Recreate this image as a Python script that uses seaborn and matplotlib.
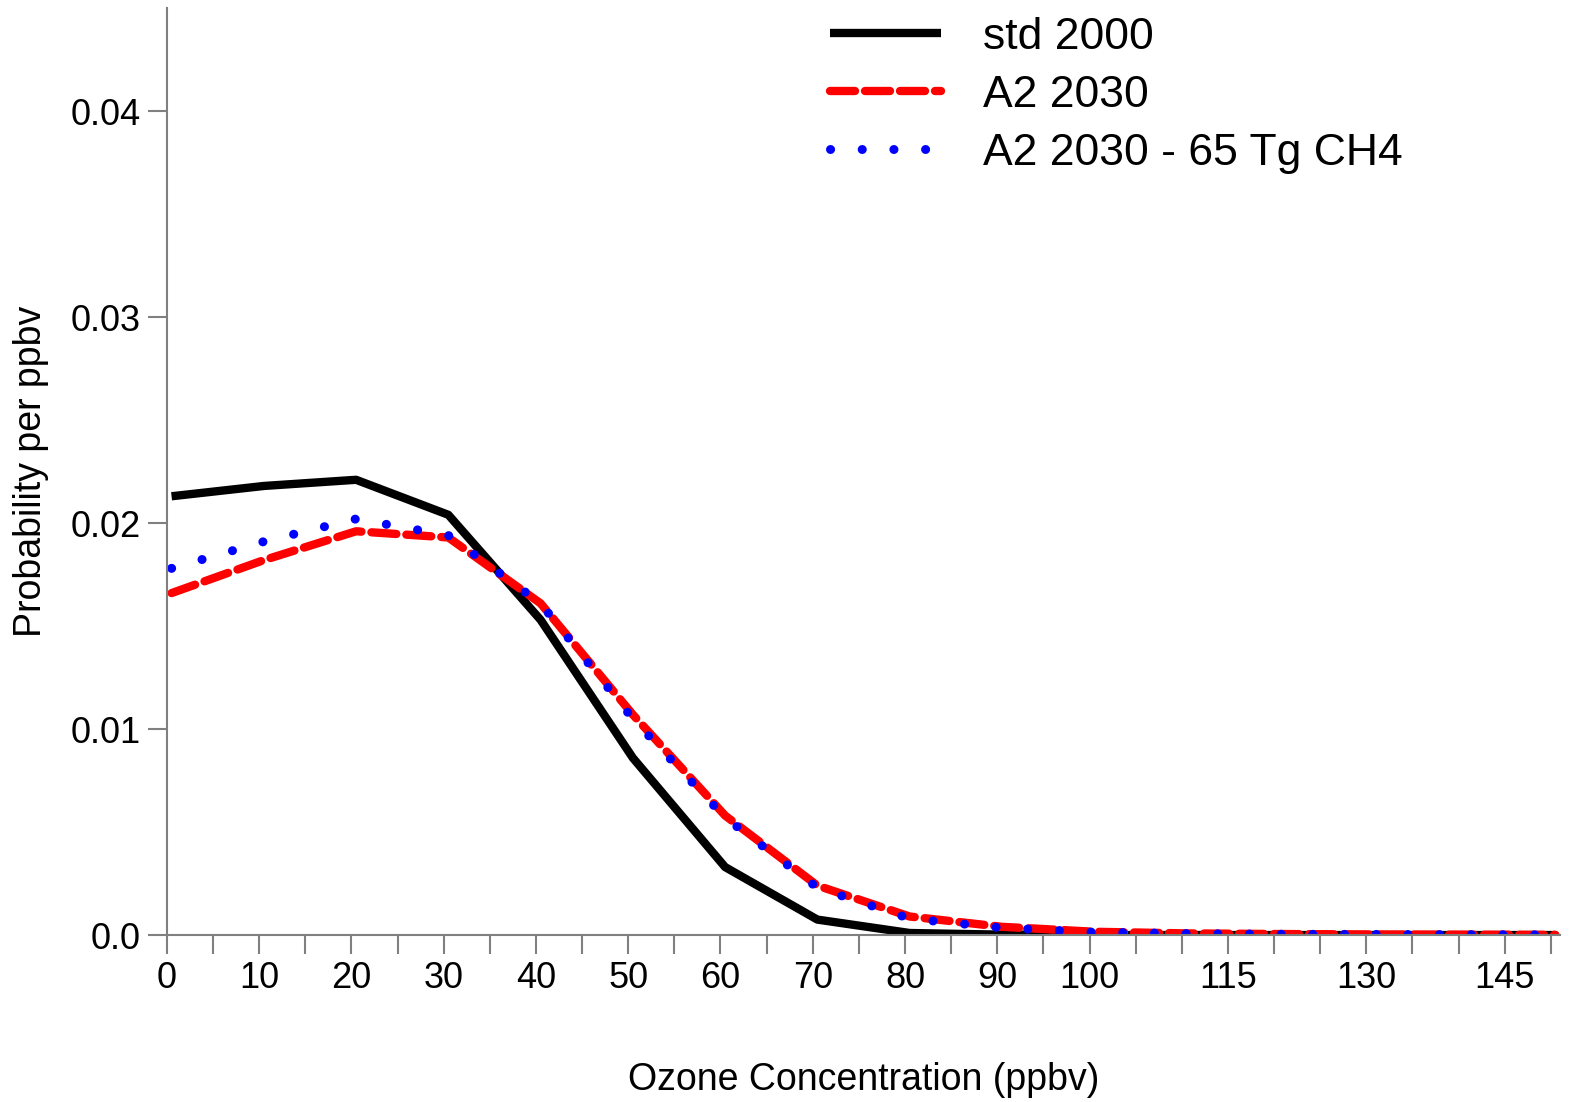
import numpy as np
import pandas as pd
import matplotlib
matplotlib.use("Agg")
import matplotlib.pyplot as plt
from matplotlib.ticker import FixedLocator, MultipleLocator
import seaborn as sns

# ---- data ----
ozone_ppbv = [0.5, 10.5, 20.5, 30.5, 40.5, 50.5, 60.5, 70.5, 80.5, 90.5,
              100.5, 110.5, 120.5, 130.5, 140.5, 150.5]
std_2000 = [0.0213, 0.0218, 0.0221, 0.0204, 0.0153, 0.0086, 0.0033, 0.00075,
            0.0001, 0.00002, 0.0, 0.0, 0.0, 0.0, 0.0, 0.0]
a2_2030 = [0.0166, 0.0182, 0.0196, 0.0193, 0.0161, 0.0107, 0.0058, 0.0024,
           0.0009, 0.0004, 0.00016, 0.00008, 0.00005, 0.00003, 0.00002, 0.00001]
a2_2030_ch4 = [0.0178, 0.0191, 0.0202, 0.0194, 0.0161, 0.0105, 0.0057, 0.0023,
               0.0008, 0.00035, 0.00014, 0.00007, 0.00004, 0.00003, 0.00002, 0.00001]
series_names = ["std 2000", "A2 2030", "A2 2030 - 65 Tg CH4"]
x_tick_values = [0, 10, 20, 30, 40, 50, 60, 70, 80, 90, 100, 115, 130, 145]
y_tick_values = [0.0, 0.01, 0.02, 0.03, 0.04]
y_tick_labels = ["0.0", "0.01", "0.02", "0.03", "0.04"]
x_label = "Ozone Concentration (ppbv)"
y_label = "Probability per ppbv"

df = pd.DataFrame({
    "x": ozone_ppbv * 3,
    "y": std_2000 + a2_2030 + a2_2030_ch4,
    "series": sum([[n] * len(ozone_ppbv) for n in series_names], []),
})

sns.set_style("white")
plt.rcParams["font.family"] = ["Liberation Sans", "DejaVu Sans"]
plt.rcParams["text.color"] = "black"
plt.rcParams["axes.labelcolor"] = "black"

fig = plt.figure(figsize=(15.72, 11.02), dpi=100)
ax = fig.add_axes([0.1062, 0.1515, 0.8862, 0.8412])

styles = {
    "std 2000": dict(color="black", lw=6.0, linestyle="-", solid_capstyle="butt"),
    "A2 2030": dict(color="#ff0000", lw=6.0, linestyle=(0, (3.0, 1.2)), dash_capstyle="round"),
    "A2 2030 - 65 Tg CH4": dict(color="#0000ff", lw=6.5, linestyle=(0, (0.01, 3.5)), dash_capstyle="round"),
}
for name in series_names:
    sub = df[df["series"] == name]
    sns.lineplot(data=sub, x="x", y="y", ax=ax, label=name, **styles[name])

ax.set_xlim(0, 151)
ax.set_ylim(0, 0.045)
ax.xaxis.set_major_locator(FixedLocator(x_tick_values))
ax.xaxis.set_minor_locator(MultipleLocator(5))
ax.set_yticks(y_tick_values)
ax.set_yticklabels(y_tick_labels)

for s in ["top", "right"]:
    ax.spines[s].set_visible(False)
for s in ["left", "bottom"]:
    ax.spines[s].set_color("#808080")
    ax.spines[s].set_linewidth(1.5)

ax.tick_params(axis="both", which="both", direction="out", color="#808080",
               width=1.5, length=14, labelsize=26, pad=5, labelcolor="black")
ax.tick_params(axis="y", which="minor", left=False)
ax.tick_params(axis="x", which="minor", bottom=True)
ax.tick_params(axis="y", left=True)
ax.tick_params(axis="x", bottom=True)

ax.set_xlabel(x_label, fontsize=27, labelpad=47)
ax.set_ylabel(y_label, fontsize=27, labelpad=15)

leg = ax.legend(loc="upper left", bbox_to_anchor=(830 / 1572, 1 - 17 / 1102),
                bbox_transform=fig.transFigure, frameon=False, fontsize=32,
                handlelength=2.5, handletextpad=0.95, borderpad=0, labelspacing=0.38,
                borderaxespad=0)

fig.savefig("out.png", dpi=100)
